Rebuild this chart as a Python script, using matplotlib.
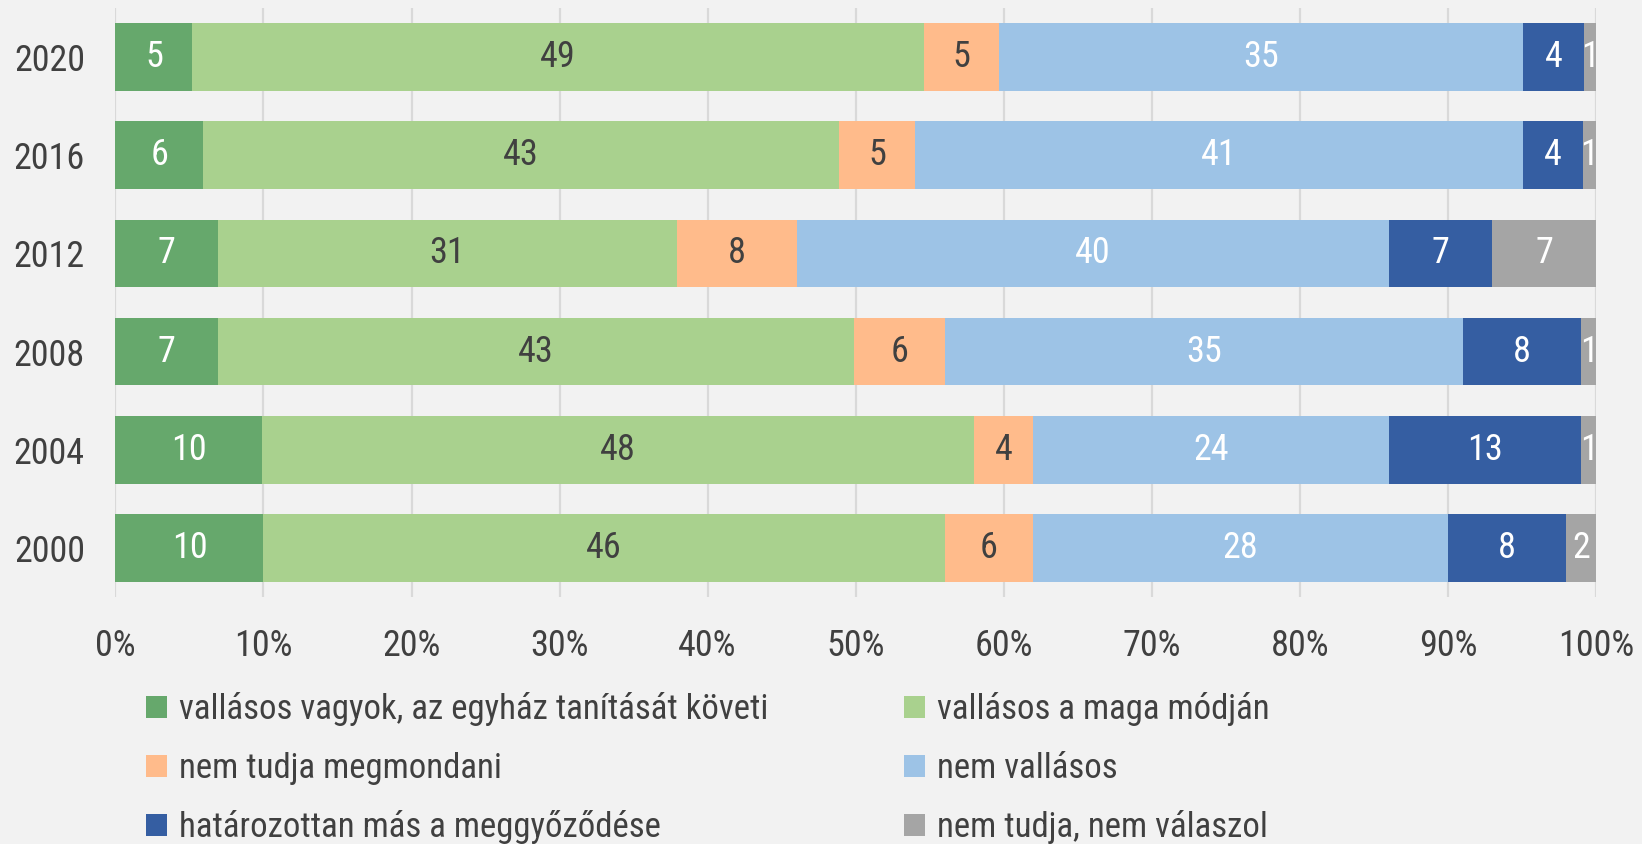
import matplotlib

matplotlib.use("Agg")
import matplotlib.pyplot as plt
import numpy as np
from matplotlib import font_manager
from matplotlib.patches import Patch

years = ["2020", "2016", "2012", "2008", "2004", "2000"]

categories = [
    "vallásos vagyok, az egyház tanítását követi",
    "vallásos a maga módján",
    "nem tudja megmondani",
    "nem vallásos",
    "határozottan más a meggyőződése",
    "nem tudja, nem válaszol",
]

# share of each answer per survey year (%), rows follow `years`
religious_church = [5.2, 5.9, 6.9, 6.9, 9.9, 10.0]
religious_own_way = [49.4, 43.0, 31.0, 43.0, 48.1, 46.0]
cannot_say = [5.1, 5.1, 8.1, 6.1, 4.0, 6.0]
not_religious = [35.4, 41.1, 40.0, 35.0, 24.0, 28.0]
other_conviction = [4.1, 4.0, 7.0, 8.0, 13.0, 8.0]
no_answer = [0.8, 0.9, 7.0, 1.0, 1.0, 2.0]

series = [religious_church, religious_own_way, cannot_say,
          not_religious, other_conviction, no_answer]
colors = ["#66a86c", "#a9d18e", "#ffbb8b", "#9dc3e6", "#355ea2", "#a5a5a5"]
label_colors = ["white", "#404040", "#404040", "white", "white", "white"]

TEXT = "#404040"
BG = "#f2f2f2"

# a narrow face is closest to the original; fall back to Roboto
available = {f.name for f in font_manager.fontManager.ttflist}
family = "Roboto"
for cand in ["Liberation Sans Narrow", "Roboto Condensed", "Open Sans Condensed"]:
    if cand in available:
        family = cand
        break
plt.rcParams["font.family"] = [family, "DejaVu Sans"]

FS = 26
LEG_FS = 25

fig = plt.figure(figsize=(16.42, 8.44), dpi=100, facecolor=BG)
ax = fig.add_axes([0.0703, 0.2927, 0.9017, 0.6978], facecolor=BG)

y = np.arange(len(years))
left = np.zeros(len(years))
for vals, col, lcol in zip(series, colors, label_colors):
    vals = np.asarray(vals)
    ax.barh(y, vals, left=left, height=0.69, color=col, zorder=3)
    for yi, (l, v) in enumerate(zip(left, vals)):
        ax.text(l + v / 2, yi, f"{round(v):d}", ha="center", va="center",
                color=lcol, fontsize=FS, zorder=4)
    left += vals

ax.set_xlim(0, 100)
ax.set_ylim(len(years) - 0.5, -0.5)
ax.set_xticks(np.arange(0, 101, 10))
ax.set_xticklabels([f"{t}%" for t in range(0, 101, 10)])
ax.set_yticks(y)
ax.set_yticklabels(years)
ax.tick_params(axis="both", length=0, labelsize=FS, labelcolor=TEXT)
ax.tick_params(axis="x", pad=22)
ax.tick_params(axis="y", pad=22)
ax.grid(axis="x", color="#d9d9d9", linewidth=1.6, zorder=0)
for s in ax.spines.values():
    s.set_visible(False)

handles = [Patch(facecolor=c, edgecolor="none") for c in colors]
order = [0, 2, 4, 1, 3, 5]
fig.legend([handles[i] for i in order], [categories[i] for i in order],
           ncol=2, loc="upper left", bbox_to_anchor=(0.089, 0.180),
           frameon=False, fontsize=LEG_FS, labelcolor=TEXT,
           handlelength=0.6, handleheight=0.6, handletextpad=0.35,
           columnspacing=3.9, labelspacing=0.74, borderpad=0, borderaxespad=0)

fig.savefig("out.png", dpi=100, facecolor=BG)
